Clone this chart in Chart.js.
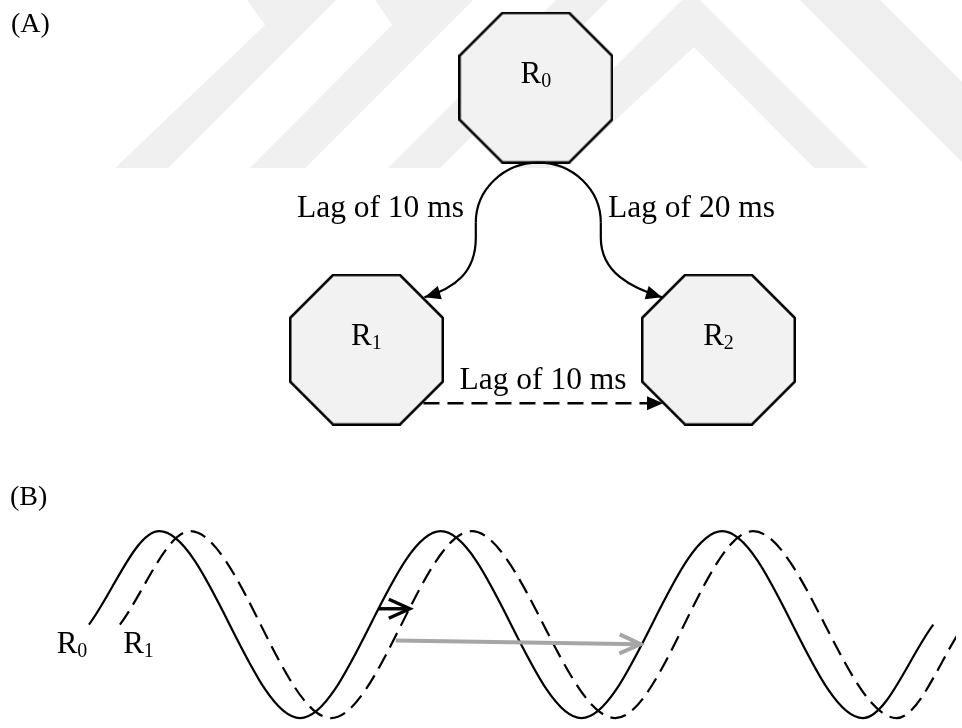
<!DOCTYPE html>
<html>
<head>
<meta charset="utf-8">
<script src="https://cdn.jsdelivr.net/npm/chart.js@4.4.0/dist/chart.umd.min.js"></script>
<style>
  html, body { margin: 0; padding: 0; background: #fff; }
  #wrap { width: 962px; height: 728px; }
</style>
</head>
<body>
<div id="wrap"><canvas id="lagChart" width="962" height="728"></canvas></div>
<script>
const W = 962, H = 728;

// ---- data ----
// panel A: three regions and the lags between them
const nodeNames = ['R0', 'R1', 'R2'];
const linkFrom = [0, 0, 1];
const linkTo = [1, 2, 2];
const lagMs = [10, 20, 10];

// panel B: time in periods of the oscillation, signal normalised to +-1
const r0Time = [0, 0.25, 0.75, 1.25, 1.75, 2.25, 2.75, 3];
const r0Signal = [0, 1, -1, 1, -1, 1, -1, 0];
const r1Time = [0.11, 0.36, 0.86, 1.36, 1.87, 2.36, 2.87, 3.11];
const r1Signal = [0, 1, -1, 1, -1, 1, -1, 0];
// lag arrows of panel B (black: R0 -> R1, grey: R1 -> next R0 cycle)
const lagArrowTime = [[1.03, 1.14], [1.09, 1.96]];
const lagArrowSignal = [[0.17, 0.17], [-0.17, -0.21]];

// ---- layout (pixels) ----
const nodeCentre = [[536.5, 83], [365, 349.5], [721.5, 349.5]];
const linkLabelPos = [[464, 217, 'right'], [608, 217, 'left'], [543, 389, 'center']];
const waveBox = { t0px: 84, t3px: 939, topPx: 534, bottomPx: 724 };
const waveLabelPos = [[72, 653], [138.5, 653]];
const panelLabels = [['(A)', 11, 32], ['(B)', 10, 505]];
const watermark = [
  [[247, 0], [265, 25], [115, 168], [168, 168], [336, 0]],
  [[375, 0], [392, 25], [250, 168], [305, 168], [473, 0]],
  [[388, 168], [440, 168], [608, 0], [556, 0]],
  [[514, 168], [564, 168], [694, 47], [814, 168], [868, 168], [700, 0], [682, 0]],
  [[800, 0], [880, 0], [962, 82], [962, 162]]
];
const FONT = '"Liberation Serif", "Times New Roman", serif';

// time / signal scales that put the waves where they sit in the figure
const tSpan = 3 * W / (waveBox.t3px - waveBox.t0px);
const tMin = -waveBox.t0px / (waveBox.t3px - waveBox.t0px) * 3;
const vSpan = 2 * H / (waveBox.bottomPx - waveBox.topPx);
const vMin = -1 - (H - waveBox.bottomPx) / H * vSpan;

// octagon used as point style for the regions
function makeOctagon(w, h, cut, lw) {
  const c = document.createElement('canvas');
  c.width = w; c.height = h;
  const g = c.getContext('2d');
  const i = lw / 2;
  const pts = [[cut, i], [w - cut, i], [w - i, cut], [w - i, h - cut],
               [w - cut, h - i], [cut, h - i], [i, h - cut], [i, cut]];
  g.beginPath();
  pts.forEach(([x, y], k) => k ? g.lineTo(x, y) : g.moveTo(x, y));
  g.closePath();
  g.fillStyle = '#f2f2f2';
  g.fill();
  g.lineWidth = lw;
  g.strokeStyle = '#000';
  g.lineJoin = 'miter';
  g.stroke();
  return c;
}
const octagon = makeOctagon(155, 152, 44, 2.5);

function head(ctx, tx, ty, ang, len, half, open) {
  const bx = tx - Math.cos(ang) * len, by = ty - Math.sin(ang) * len;
  const nx = -Math.sin(ang) * half, ny = Math.cos(ang) * half;
  ctx.beginPath();
  ctx.moveTo(bx + nx, by + ny);
  ctx.lineTo(tx, ty);
  ctx.lineTo(bx - nx, by - ny);
  if (open) ctx.stroke();
  else { ctx.closePath(); ctx.fill(); }
}

function subLabel(ctx, name, cx, baseY) {
  const main = name[0], sub = name.slice(1);
  ctx.font = '31px ' + FONT;
  const w1 = ctx.measureText(main).width;
  ctx.font = '20px ' + FONT;
  const w2 = ctx.measureText(sub).width;
  const left = cx - (w1 + w2) / 2;
  ctx.textAlign = 'left';
  ctx.textBaseline = 'alphabetic';
  ctx.font = '31px ' + FONT;
  ctx.fillText(main, left, baseY);
  ctx.font = '20px ' + FONT;
  ctx.fillText(sub, left + w1, baseY + 4);
}

const diagramPlugin = {
  id: 'diagram',
  beforeDatasetsDraw(chart) {
    const ctx = chart.ctx;
    ctx.save();
    ctx.fillStyle = '#f0f0f0';
    watermark.forEach(poly => {
      ctx.beginPath();
      poly.forEach(([x, y], k) => k ? ctx.lineTo(x, y) : ctx.moveTo(x, y));
      ctx.closePath();
      ctx.fill();
    });
    ctx.restore();
  },
  afterDatasetsDraw(chart) {
    const { ctx, scales } = chart;
    const px = i => scales.x.getPixelForValue(nodeCentre[i][0]);
    const py = i => scales.y.getPixelForValue(nodeCentre[i][1]);
    ctx.save();
    ctx.strokeStyle = '#000';
    ctx.fillStyle = '#000';

    // arch leaving R0, split towards R1 and R2
    const ax = px(0) + 2.5, ay = py(0) + 135, rx = 62.5, ry = 60;
    ctx.lineWidth = 2.2;
    ctx.beginPath();
    ctx.ellipse(ax, ay, rx, ry, 0, Math.PI, 2 * Math.PI);
    ctx.stroke();

    linkFrom.forEach((from, k) => {
      const to = linkTo[k];
      if (from === 0) {
        const side = px(to) < px(0) ? -1 : 1;
        const sx = ax + side * rx;
        const tx = side < 0 ? px(to) + 58 : px(to) - 56.5;
        const ty = py(to) - 52.5;
        const c2x = tx - side * 30, c2y = ty - 9;
        ctx.lineWidth = 2.2;
        ctx.setLineDash([]);
        ctx.beginPath();
        ctx.moveTo(sx, ay);
        ctx.lineTo(sx, ay + 15);
        ctx.bezierCurveTo(sx, ay + 50, c2x, c2y, tx, ty);
        ctx.stroke();
        head(ctx, tx, ty, Math.atan2(ty - c2y, tx - c2x), 16, 7, false);
      } else {
        const sx = px(from) + 57, tx = px(to) - 55.5, yy = py(from) + 53.5;
        ctx.lineWidth = 2.6;
        ctx.setLineDash([16, 8]);
        ctx.beginPath();
        ctx.moveTo(sx, yy);
        ctx.lineTo(tx - 15, yy);
        ctx.stroke();
        ctx.setLineDash([]);
        head(ctx, tx, yy, 0, 16, 7, false);
      }
      const [lx, ly, al] = linkLabelPos[k];
      ctx.font = '31.5px ' + FONT;
      ctx.textAlign = al;
      ctx.textBaseline = 'alphabetic';
      ctx.fillText('Lag of ' + lagMs[k] + ' ms', lx, ly);
    });

    nodeNames.forEach((n, i) => subLabel(ctx, n, px(i), py(i) - 5));

    // lag arrows on the waves
    const xw = scales.xw, yw = scales.yw;
    const arrowColour = ['#000', '#a6a6a6'];
    const arrowWidth = [3.4, 4];
    lagArrowTime.forEach((tt, k) => {
      const x1 = xw.getPixelForValue(tt[0]), y1 = yw.getPixelForValue(lagArrowSignal[k][0]);
      const x2 = xw.getPixelForValue(tt[1]), y2 = yw.getPixelForValue(lagArrowSignal[k][1]);
      ctx.strokeStyle = arrowColour[k];
      ctx.lineWidth = arrowWidth[k];
      ctx.lineJoin = 'miter';
      ctx.beginPath();
      ctx.moveTo(x1, y1);
      ctx.lineTo(x2 - 1, y2);
      ctx.stroke();
      head(ctx, x2, y2, Math.atan2(y2 - y1, x2 - x1), 21, 9.5, true);
    });

    ctx.fillStyle = '#000';
    ['R0', 'R1'].forEach((n, i) => subLabel(ctx, n, waveLabelPos[i][0], waveLabelPos[i][1]));

    ctx.font = '28px ' + FONT;
    ctx.textAlign = 'left';
    panelLabels.forEach(([t, x, y]) => ctx.fillText(t, x, y));
    ctx.restore();
  }
};

const ctx = document.getElementById('lagChart').getContext('2d');
const lagChart = new Chart(ctx, {
  type: 'scatter',
  data: {
    datasets: [{
      label: 'regions',
      data: nodeCentre.map(([x, y]) => ({ x, y })),
      pointStyle: octagon,
      pointRadius: 5,
      xAxisID: 'x',
      yAxisID: 'y'
    }, {
      type: 'line',
      label: nodeNames[0],
      data: r0Time.map((t, i) => ({ x: t, y: r0Signal[i] })),
      xAxisID: 'xw',
      yAxisID: 'yw',
      borderColor: '#000',
      borderWidth: 2.2,
      pointRadius: 0,
      fill: false,
      cubicInterpolationMode: 'monotone'
    }, {
      type: 'line',
      label: nodeNames[1],
      data: r1Time.map((t, i) => ({ x: t, y: r1Signal[i] })),
      xAxisID: 'xw',
      yAxisID: 'yw',
      borderColor: '#000',
      borderWidth: 2.2,
      borderDash: [16, 8],
      pointRadius: 0,
      fill: false,
      cubicInterpolationMode: 'monotone'
    }]
  },
  options: {
    responsive: false,
    devicePixelRatio: 1,
    animation: false,
    events: [],
    layout: { padding: 0 },
    plugins: {
      legend: { display: false },
      tooltip: { enabled: false },
      title: { display: false }
    },
    scales: {
      x: { type: 'linear', min: 0, max: W, display: false },
      y: { type: 'linear', min: 0, max: H, reverse: true, display: false },
      xw: { type: 'linear', axis: 'x', position: 'bottom', min: tMin, max: tMin + tSpan, display: false },
      yw: { type: 'linear', axis: 'y', position: 'left', min: vMin, max: vMin + vSpan, display: false }
    }
  },
  plugins: [diagramPlugin]
});
</script>
</body>
</html>
